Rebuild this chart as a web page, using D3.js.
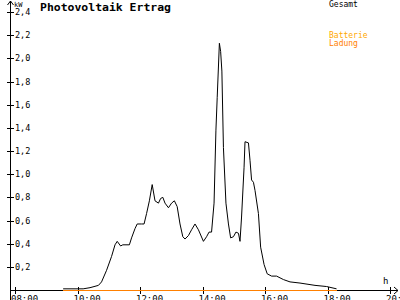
<!DOCTYPE html>
<html>
<head>
<meta charset="utf-8">
<script src="https://cdn.jsdelivr.net/npm/d3@7"></script>
<style>
body { margin: 0; background: #fff; }
svg { display: block; }
text { font-family: "DejaVu Sans Mono", monospace; }
</style>
</head>
<body>
<script>
// Gesamt (kW) over the day, hours as decimals
var hours = [9.54, 10.18, 10.40, 10.67, 10.77, 10.93, 11.09, 11.20, 11.27, 11.38, 11.45, 11.66, 11.73, 11.84, 11.91,
  12.05, 12.13, 12.21, 12.30, 12.39, 12.48, 12.59, 12.66, 12.73, 12.80, 12.91, 13.01, 13.10, 13.19, 13.28,
  13.37, 13.44, 13.55, 13.65, 13.76, 13.87, 14.03, 14.13, 14.21, 14.29, 14.37, 14.43, 14.47, 14.54, 14.58,
  14.62, 14.67, 14.75, 14.83, 14.90, 14.99, 15.07, 15.15, 15.20, 15.25, 15.33, 15.36, 15.47, 15.52, 15.57,
  15.63, 15.68, 15.79, 15.86, 15.97, 16.07, 16.21, 16.37, 16.59, 16.80, 17.12, 17.60, 17.97, 18.29];
var gesamt = [0.01, 0.01, 0.02, 0.04, 0.07, 0.17, 0.29, 0.39, 0.42, 0.38, 0.39, 0.39, 0.45, 0.53, 0.57,
  0.57, 0.57, 0.66, 0.77, 0.91, 0.77, 0.75, 0.79, 0.80, 0.75, 0.71, 0.75, 0.77, 0.72, 0.57,
  0.46, 0.44, 0.47, 0.52, 0.57, 0.52, 0.42, 0.46, 0.50, 0.50, 0.75, 1.38, 1.66, 2.13, 2.06,
  1.89, 1.23, 0.75, 0.57, 0.45, 0.46, 0.50, 0.49, 0.42, 0.63, 1.06, 1.28, 1.27, 1.12, 0.95,
  0.93, 0.86, 0.66, 0.37, 0.22, 0.14, 0.12, 0.12, 0.09, 0.07, 0.06, 0.04, 0.03, 0.01];

// Batterie Ladung stays at zero
var ladungHours = [9.53, 18.3];
var ladung = [0, 0];

var xTicks = [8, 10, 12, 14, 16, 18, 20];
var xTickLabels = ["08:00", "10:00", "12:00", "14:00", "16:00", "18:00", "20:00"];
var yTicks = [0.2, 0.4, 0.6, 0.8, 1.0, 1.2, 1.4, 1.6, 1.8, 2.0, 2.2, 2.4];
var yTickLabels = ["0,2", "0,4", "0,6", "0,8", "1,0", "1,2", "1,4", "1,6", "1,8", "2,0", "2,2", "2,4"];

var svg = d3.select("body").append("svg")
  .attr("width", 400).attr("height", 300);

svg.append("rect").attr("width", 400).attr("height", 300).attr("fill", "#fff");

var x = d3.scaleLinear().domain([8, 20]).range([15, 390]);
var y = d3.scaleLinear().domain([0, 2.4]).range([290, 12]);

// axes lines
svg.append("line").attr("x1", 10.5).attr("x2", 10.5).attr("y1", 1).attr("y2", 300)
  .attr("stroke", "#000").attr("shape-rendering", "crispEdges");
svg.append("line").attr("x1", 10).attr("x2", 398).attr("y1", 290.5).attr("y2", 290.5)
  .attr("stroke", "#000").attr("shape-rendering", "crispEdges");

// arrow heads
svg.append("path").attr("d", "M7.5,5 L10.5,1 L13.5,5").attr("fill", "none").attr("stroke", "#000");
svg.append("path").attr("d", "M394,287 L398,290.5 L394,294").attr("fill", "none").attr("stroke", "#000");

// y ticks
var yt = svg.append("g");
yt.selectAll("line").data(yTicks).enter().append("line")
  .attr("x1", 7).attr("x2", 14)
  .attr("y1", function(d){ return Math.round(y(d)) + 0.5; })
  .attr("y2", function(d){ return Math.round(y(d)) + 0.5; })
  .attr("stroke", "#000").attr("shape-rendering", "crispEdges");
yt.selectAll("text").data(yTicks).enter().append("text")
  .attr("x", 15).attr("y", function(d){ return y(d) + 3; })
  .attr("font-size", 8.5).attr("fill", "#000")
  .text(function(d, i){ return yTickLabels[i]; });

// x ticks
var xt = svg.append("g");
xt.selectAll("line").data(xTicks).enter().append("line")
  .attr("x1", function(d){ return Math.round(x(d)) + 0.5; })
  .attr("x2", function(d){ return Math.round(x(d)) + 0.5; })
  .attr("y1", 287).attr("y2", 294)
  .attr("stroke", "#000").attr("shape-rendering", "crispEdges");
xt.selectAll("text").data(xTicks).enter().append("text")
  .attr("x", function(d){ return x(d) - 4; }).attr("y", 302)
  .attr("font-size", 9).attr("fill", "#000")
  .text(function(d, i){ return xTickLabels[i]; });

// unit labels
svg.append("text").attr("x", 14).attr("y", 7).attr("font-size", 7).text("kW");
svg.append("text").attr("x", 383).attr("y", 284).attr("font-size", 9).text("h");

// title
svg.append("text").attr("x", 40).attr("y", 11)
  .attr("font-size", 11).attr("font-weight", "bold")
  .attr("textLength", 131).attr("lengthAdjust", "spacingAndGlyphs")
  .text("Photovoltaik Ertrag");

// legend
svg.append("text").attr("x", 329).attr("y", 7).attr("font-size", 8).attr("fill", "#000").text("Gesamt");
svg.append("text").attr("x", 329).attr("y", 38).attr("font-size", 8).attr("fill", "#ffa800").text("Batterie");
svg.append("text").attr("x", 329).attr("y", 46).attr("font-size", 8).attr("fill", "#ff8000").text("Ladung");

// series
var line = d3.line()
  .x(function(d){ return x(d[0]); })
  .y(function(d){ return y(d[1]); });

svg.append("path")
  .datum(d3.zip(hours, gesamt))
  .attr("d", line)
  .attr("fill", "none").attr("stroke", "#000").attr("stroke-width", 1);

svg.append("path")
  .datum(d3.zip(ladungHours, ladung))
  .attr("d", line)
  .attr("transform", "translate(0,0.5)")
  .attr("fill", "none").attr("stroke", "#ff8000").attr("stroke-width", 1)
  .attr("shape-rendering", "crispEdges");
</script>
</body>
</html>
